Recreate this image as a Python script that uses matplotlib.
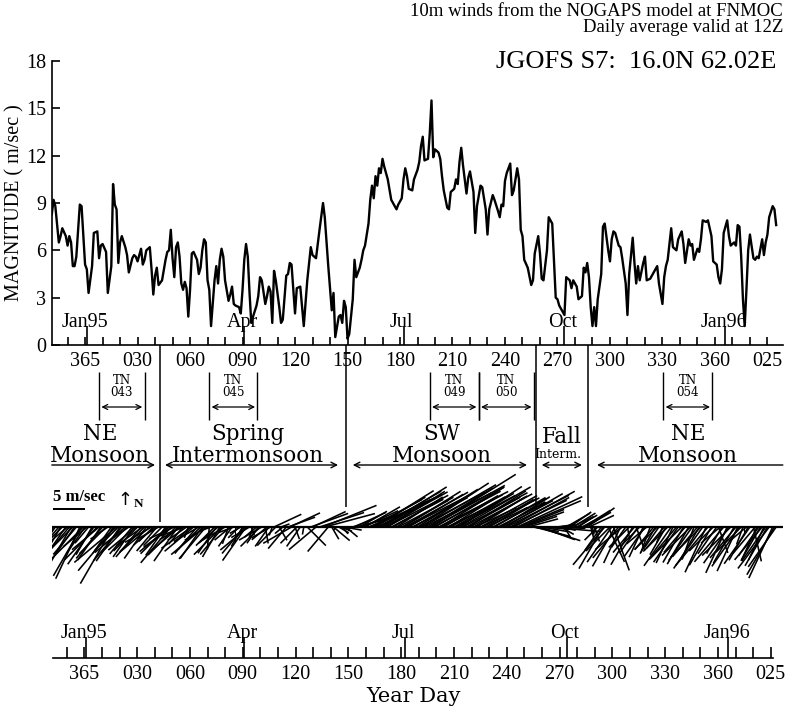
import numpy as np
import matplotlib.pyplot as plt

plt.rcParams['font.family'] = ['Liberation Serif', 'DejaVu Serif']

W, H = 788, 715

# day 0 = day 365 of 1994, day 1 = 1 Jan 1995
days = [-19, -18, -17, -15, -14, -13, -11, -10, -9, -8, -7, -6,
        -5, -3, -2, -1, 0, 1, 2, 4, 5, 7, 8, 9,
        10, 12, 13, 15, 16, 17, 18, 19, 20, 21, 23, 24,
        25, 27, 28, 29, 30, 32, 33, 34, 35, 37, 38, 39,
        40, 41, 42, 44, 46, 47, 48, 49, 50, 51, 52, 53,
        54, 55, 56, 57, 58, 59, 60, 61, 62, 64, 65, 66,
        67, 68, 69, 70, 71, 72, 74, 75, 76, 77, 78, 79,
        80, 82, 83, 84, 85, 86, 88, 89, 90, 91, 92, 93,
        94, 95, 96, 98, 99, 100, 101, 103, 104, 105, 106, 107,
        108, 109, 111, 112, 113, 115, 116, 117, 118, 120, 121, 123,
        125, 127, 129, 130, 132, 134, 136, 137, 139, 141, 142, 143,
        145, 146, 147, 148, 149, 150, 151, 153, 154, 155, 157, 158,
        159, 160, 162, 163, 164, 165, 166, 167, 168, 169, 170, 171,
        172, 173, 175, 176, 178, 179, 181, 182, 183, 184, 185, 187,
        188, 190, 191, 192, 193, 194, 196, 197, 198, 199, 200, 202,
        203, 204, 205, 207, 208, 209, 211, 212, 213, 214, 215, 216,
        218, 219, 220, 222, 223, 224, 226, 227, 229, 230, 231, 233,
        234, 236, 237, 238, 239, 240, 241, 243, 244, 245, 247, 248,
        249, 250, 251, 253, 255, 256, 257, 259, 260, 261, 262, 264,
        265, 267, 269, 270, 271, 272, 274, 275, 277, 278, 279, 281,
        282, 284, 285, 286, 287, 288, 289, 290, 291, 292, 293, 295,
        296, 297, 299, 300, 301, 302, 303, 305, 306, 307, 309, 310,
        311, 313, 314, 315, 316, 317, 319, 320, 321, 323, 325, 326,
        327, 328, 330, 331, 332, 333, 335, 336, 338, 339, 341, 342,
        343, 345, 346, 347, 348, 350, 351, 352, 353, 355, 356, 358,
        359, 361, 362, 363, 364, 365, 367, 368, 369, 371, 372, 373,
        374, 375, 376, 377, 378, 379, 380, 382, 383, 384, 385, 386,
        387, 388, 389, 390, 391, 393, 394, 395]

speed = [8.3, 9.2, 8.8, 6.5, 6.9, 7.4, 6.9, 6.3, 6.9, 6.5, 5.0, 5.0,
         5.6, 8.9, 8.8, 6.9, 5.1, 4.8, 3.3, 5.0, 7.1, 7.2, 5.5, 6.3,
         6.4, 5.9, 3.3, 5.0, 10.2, 8.9, 8.6, 5.2, 6.5, 6.9, 6.2, 5.7,
         4.6, 5.5, 5.7, 5.6, 5.3, 6.1, 5.1, 5.4, 6.0, 6.2, 4.8, 3.2,
         4.4, 4.9, 3.8, 4.1, 5.4, 5.9, 6.0, 7.3, 5.5, 4.3, 6.2, 6.5,
         5.6, 3.9, 3.5, 4.0, 3.6, 1.8, 3.5, 5.8, 5.9, 5.4, 4.5, 4.9,
         6.0, 6.7, 6.5, 4.1, 3.5, 1.2, 4.1, 5.0, 3.9, 5.4, 6.1, 5.6,
         4.1, 2.8, 3.2, 3.7, 2.6, 2.5, 2.4, 2.0, 3.5, 5.4, 6.4, 5.6,
         3.3, 1.4, 1.8, 2.5, 3.1, 4.3, 4.1, 2.6, 3.1, 3.7, 3.4, 1.4,
         4.7, 4.1, 2.4, 1.4, 1.6, 4.4, 4.5, 5.2, 5.1, 2.0, 3.6, 3.7,
         1.2, 4.1, 6.2, 5.7, 5.5, 7.3, 9.0, 8.1, 5.0, 2.2, 3.3, 0.5,
         1.8, 1.9, 1.4, 2.8, 2.4, 0.4, 0.7, 2.9, 5.4, 4.3, 4.9, 5.4,
         6.0, 6.3, 7.7, 9.2, 10.1, 9.3, 10.7, 10.1, 11.2, 10.9, 11.8, 11.3,
         10.9, 10.5, 9.2, 9.0, 8.6, 8.9, 9.3, 10.5, 11.2, 10.7, 9.9, 9.8,
         10.5, 11.1, 11.6, 12.6, 13.2, 11.7, 11.8, 13.4, 15.5, 11.9, 12.4, 12.2,
         11.8, 10.7, 9.8, 8.7, 8.6, 9.7, 9.9, 10.5, 10.2, 11.6, 12.5, 11.4,
         9.6, 10.6, 11.0, 9.7, 7.1, 8.8, 10.1, 10.0, 8.6, 7.0, 8.6, 9.5,
         9.2, 8.5, 8.1, 8.9, 8.8, 10.4, 10.9, 11.5, 9.5, 9.8, 11.2, 10.5,
         7.3, 6.9, 5.4, 4.9, 3.8, 4.1, 5.8, 6.9, 5.8, 4.2, 4.1, 6.0,
         8.1, 7.7, 3.0, 2.9, 2.5, 2.3, 1.9, 4.3, 4.1, 3.6, 4.1, 3.7,
         2.9, 3.1, 4.9, 4.6, 5.2, 4.3, 2.4, 1.2, 2.4, 1.2, 2.9, 4.5,
         7.5, 7.7, 6.0, 5.3, 6.7, 7.2, 7.1, 6.3, 6.2, 5.5, 3.9, 1.9,
         4.5, 6.8, 5.2, 3.9, 5.0, 4.1, 5.2, 5.6, 4.1, 4.2, 4.6, 4.8,
         5.0, 3.9, 2.6, 4.3, 5.0, 5.4, 7.4, 6.2, 6.0, 6.7, 7.2, 6.4,
         5.2, 6.7, 6.3, 6.4, 5.4, 6.1, 5.9, 6.7, 7.9, 7.8, 7.9, 6.9,
         5.3, 5.1, 4.3, 3.9, 4.8, 7.1, 7.9, 6.9, 6.3, 6.5, 6.3, 7.6,
         7.5, 5.6, 2.9, 1.2, 3.5, 6.0, 7.0, 5.5, 5.4, 5.6, 5.5, 6.1,
         6.7, 5.7, 6.5, 7.0, 8.1, 8.8, 8.6, 7.6]

# direction the wind blows toward, degrees clockwise from north
direction = [200, 205, 215, 220, 210, 225, 215, 230, 220, 210, 225, 215,
             220, 205, 210, 225, 215, 230, 220, 210, 215, 225, 230, 215,
             220, 225, 235, 215, 210, 220, 230, 225, 215, 220, 230, 225,
             235, 220, 215, 230, 225, 220, 235, 225, 215, 230, 240, 225,
             230, 220, 240, 225, 215, 225, 230, 220, 235, 245, 225, 215,
             230, 240, 220, 250, 235, 200, 225, 235, 230, 220, 240, 225,
             215, 230, 220, 240, 185, 250, 225, 215, 230, 210, 225, 220,
             240, 200, 230, 215, 250, 180, 225, 240, 210, 220, 215, 230,
             240, 160, 200, 230, 215, 225, 240, 170, 230, 215, 240, 200,
             65, 225, 150, 70, 230, 220, 70, 65, 240, 160, 225, 215,
             190, 135, 70, 65, 230, 72, 68, 75, 220, 150, 130, 200,
             120, 110, 140, 100, 130, 200, 180, 70, 65, 75, 60, 70,
             65, 60, 68, 62, 65, 60, 58, 63, 60, 62, 58, 61,
             63, 58, 62, 60, 57, 62, 60, 58, 61, 63, 59, 62,
             60, 58, 62, 57, 60, 63, 59, 61, 58, 62, 60, 63,
             58, 62, 60, 64, 58, 61, 60, 62, 59, 57, 60, 62,
             61, 58, 62, 60, 65, 58, 61, 63, 60, 64, 59, 62,
             60, 63, 61, 58, 62, 60, 63, 61, 64, 62, 65, 67,
             68, 70, 72, 75, 90, 100, 105, 108, 110, 100, 95, 92,
             95, 90, 85, 100, 80, 120, 150, 60, 55, 65, 58, 60,
             55, 62, 58, 60, 55, 65, 165, 170, 160, 200, 225, 215,
             210, 220, 155, 225, 215, 160, 210, 220, 205, 230, 215, 170,
             225, 210, 220, 160, 215, 225, 205, 215, 230, 200, 220, 210,
             225, 215, 200, 220, 210, 225, 215, 205, 220, 215, 225, 210,
             220, 210, 225, 215, 200, 220, 210, 225, 215, 205, 220, 210,
             225, 215, 160, 230, 210, 220, 205, 215, 225, 210, 220, 205,
             215, 225, 200, 180, 230, 210, 215, 167, 220, 205, 215, 210,
             220, 205, 215, 210, 217, 205, 210, 215]

month_days = [1, 91, 182, 274, 366]
month_names = ['Jan95', 'Apr', 'Jul', 'Oct', 'Jan96']
tick_days = list(range(-10, 391, 10))
yday_ticks = list(range(0, 391, 30))
yday_labels = ['365', '030', '060', '090', '120', '150', '180',
               '210', '240', '270', '300', '330', '360', '025']

period_bounds = [43, 149, 257.5, 287.5]
period_names = ['NE\nMonsoon', 'Spring\nIntermonsoon', 'SW\nMonsoon', 'Fall', 'NE\nMonsoon']
period_centers = [8.6, 93, 204, 272.6, 344.6]
period_spans = [(-19, 40), (45.7, 144.6), (153, 252.6), (261, 284), (292.6, 398.8)]
period_arrows = ['->', '<->', '<->', '<->', '<-']

tn_names = ['043', '045', '049', '050', '054']
tn_start = [8, 71, 197, 225, 330.5]
tn_end = [34, 98.5, 225, 256.5, 358.5]

XL = (-18.9, 398.9)
SERIF2 = ['DejaVu Serif']


def px_axes(l, t, r, b):
    return fig.add_axes([l / W, 1 - b / H, (r - l) / W, (b - t) / H])


fig = plt.figure(figsize=(W / 100, H / 100), dpi=100)

tick_lab = [yday_labels[yday_ticks.index(d)] if d in yday_ticks else '' for d in tick_days]

# magnitude time series
ax = px_axes(52, 61, 783, 345)
ax.plot(days, speed, color='k', lw=1.7)
ax.set_xlim(XL)
ax.set_ylim(0, 18)
ax.spines[['top', 'right']].set_visible(False)
ax.spines[['left', 'bottom']].set_linewidth(1.2)
ax.set_yticks(range(0, 19, 3))
ax.tick_params(axis='y', direction='in', length=6, width=1.2, labelsize=14.5, pad=4)
ax.set_xticks(tick_days, tick_lab)
ax.set_xticks(month_days, minor=True)
ax.tick_params(axis='x', which='major', direction='in', length=6, width=1.2, labelsize=14.5, pad=5)
ax.tick_params(axis='x', which='minor', direction='in', length=14, width=1.2)
for d, name in zip(month_days, month_names):
    ax.text(d - 1, 1.4, name, ha='center', va='center', fontsize=14.5)

fig.text(15 / W, 1 - 203 / H, 'MAGNITUDE ( m/sec )', rotation=90,
         ha='center', va='center', fontsize=14.5)

fig.text(783 / W, 1 - 11 / H, '10m winds from the NOGAPS model at FNMOC',
         ha='right', va='center', fontsize=13.5)
fig.text(783 / W, 1 - 28 / H, 'Daily average valid at 12Z',
         ha='right', va='center', fontsize=13.5)
fig.text(776 / W, 1 - 62 / H, 'JGOFS S7:  16.0N 62.02E',
         ha='right', va='center', fontsize=19)

# stick plot
sx = px_axes(52, 455, 783, 600)
sx.set_xlim(XL)
sx.set_ylim(-73, 72)
sx.axis('off')
th = np.deg2rad(direction)
u = np.array(speed) * np.sin(th)
v = np.array(speed) * np.cos(th)
q = sx.quiver(days, np.zeros(len(days)), u, v, angles='uv', scale_units='inches',
              scale=15.6, units='dots', width=1.6, headwidth=0, headlength=0,
              headaxislength=0, color='k')
sx.axhline(0, color='k', lw=1.6)
sx.quiverkey(q, 53 / W, 1 - 509 / H, 5, '', labelpos='W', coordinates='figure')
fig.text(53 / W, 1 - 497 / H, '5 m/sec', ha='left', va='center', fontsize=12,
         weight='bold')
fig.text(125 / W, 1 - 500 / H, '\u2191', ha='center', va='center', fontsize=13,
         family='DejaVu Sans')
fig.text(134 / W, 1 - 504 / H, 'N', ha='left', va='center', fontsize=9.5, weight='bold')

# annotation band between the panels
ov = px_axes(52, 0, 783, 715)
ov.set_xlim(XL)
ov.set_ylim(715, 0)
ov.axis('off')
ov.vlines(period_bounds, 345, [522, 507, 510, 507], color='k', lw=1.1)
for name, s, e in zip(tn_names, tn_start, tn_end):
    ov.vlines([s, e], 372, 420, color='k', lw=1)
    ov.text((s + e) / 2, 387, 'TN\n' + name, ha='center', va='center', fontsize=8.5,
            family=SERIF2, linespacing=0.9)
    ov.annotate('', xy=(e - 1.3, 407), xytext=(s + 1.3, 407),
                arrowprops=dict(arrowstyle='<->', lw=0.9, color='k', shrinkA=0,
                                shrinkB=0, mutation_scale=9))
for name, cx, (a0, a1), st in zip(period_names, period_centers, period_spans, period_arrows):
    yy = 437 if name == 'Fall' else 445
    ov.text(cx, yy, name, ha='center', va='center', fontsize=15.5, family=SERIF2,
            linespacing=0.95)
    ov.annotate('', xy=(a1, 465), xytext=(a0, 465), annotation_clip=False,
                arrowprops=dict(arrowstyle=st, lw=1, color='k', shrinkA=0,
                                shrinkB=0, mutation_scale=10))
ov.text(270, 455, 'Interm.', ha='center', va='center', fontsize=9, family=SERIF2)

# bottom year-day axis
bx = px_axes(53, 600, 773, 658)
bx.set_xlim(-17.8, 391.3)
bx.set_ylim(0, 1)
bx.spines[['top', 'left', 'right']].set_visible(False)
bx.spines['bottom'].set_linewidth(1.2)
bx.set_yticks([])
bx.set_xticks(tick_days, tick_lab)
bx.set_xticks(month_days, minor=True)
bx.tick_params(axis='x', which='major', direction='in', length=8, width=1.2, labelsize=14.5, pad=5)
bx.tick_params(axis='x', which='minor', direction='in', length=15, width=1.2)
for d, name in zip(month_days, month_names):
    bx.text(d - 1, 0.43, name, ha='center', va='center', fontsize=14.5)
bx.set_xlabel('Year Day', fontsize=15, family=SERIF2, labelpad=2)

fig.savefig('out.png', dpi=100)
